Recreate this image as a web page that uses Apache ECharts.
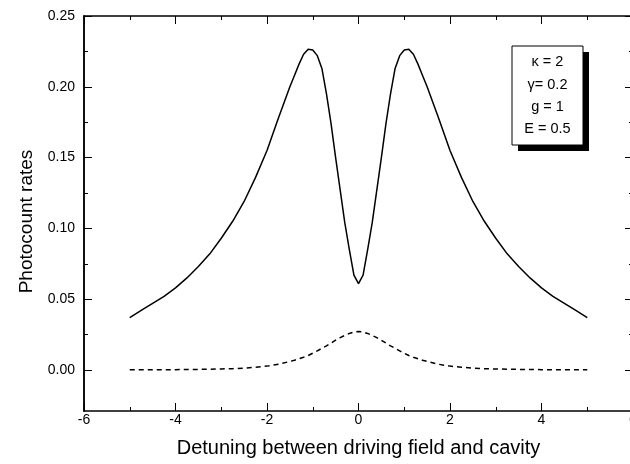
<!DOCTYPE html>
<html>
<head>
<meta charset="utf-8">
<script src="https://cdn.jsdelivr.net/npm/echarts@6/dist/echarts.min.js"></script>
<style>
html,body{margin:0;padding:0;background:#fff;}
#chart{width:630px;height:464px;}
</style>
</head>
<body>
<div id="chart"></div>
<script>
// Detuning values (x) and photocount rates
var detuning = [-5,-4.75,-4.5,-4.25,-4,-3.75,-3.5,-3.25,-3,-2.75,-2.5,-2.25,-2,-1.75,-1.5,-1.4,-1.3,-1.2,-1.1,-1,-0.9,-0.8,-0.7,-0.6,-0.5,-0.4,-0.3,-0.2,-0.1,0,0.1,0.2,0.3,0.4,0.5,0.6,0.7,0.8,0.9,1,1.1,1.2,1.3,1.4,1.5,1.75,2,2.25,2.5,2.75,3,3.25,3.5,3.75,4,4.25,4.5,4.75,5];
var solidRates = [0.037,0.042,0.047,0.052,0.058,0.065,0.073,0.082,0.093,0.105,0.119,0.136,0.155,0.178,0.200,0.208,0.216,0.223,0.2265,0.226,0.222,0.213,0.195,0.174,0.150,0.127,0.104,0.085,0.067,0.061,0.067,0.085,0.104,0.127,0.150,0.174,0.195,0.213,0.222,0.226,0.2265,0.223,0.216,0.208,0.200,0.178,0.155,0.136,0.119,0.105,0.093,0.082,0.073,0.065,0.058,0.052,0.047,0.042,0.037];
var dashedRates = [0.0001,0.0001,0.0001,0.0002,0.0002,0.0003,0.0004,0.0005,0.0007,0.0009,0.0013,0.0019,0.0027,0.0040,0.0060,0.0069,0.0079,0.0090,0.0102,0.0118,0.0135,0.0153,0.0170,0.0190,0.0210,0.0228,0.0244,0.0258,0.0268,0.0272,0.0268,0.0258,0.0244,0.0228,0.0210,0.0190,0.0170,0.0153,0.0135,0.0118,0.0102,0.0090,0.0079,0.0069,0.0060,0.0040,0.0027,0.0019,0.0013,0.0009,0.0007,0.0005,0.0004,0.0003,0.0002,0.0002,0.0001,0.0001,0.0001];
var yMajorTicks = [0,0.05,0.10,0.15,0.20,0.25];
var yMinorTicks = [0.025,0.075,0.125,0.175,0.225];
var insetLines = ['\u03BA = 2','\u03B3= 0.2','g = 1','E = 0.5'];
var xTitle = 'Detuning between driving field and cavity';
var yTitle = 'Photocount rates';

function pair(xs, ys){ return xs.map(function(x,i){ return [x, ys[i]]; }); }

var chart = echarts.init(document.getElementById('chart'), null, {renderer:'canvas'});
var FONT = 'Liberation Sans, Arial, sans-serif';
var yMin = -0.029, yMax = 0.25;
var lineCol = '#000';

function yAx(pos, ticks, len, labels){
  var a = {
    type:'value', position:pos, min:yMin, max:yMax,
    axisLine:{show:true, onZero:false, lineStyle:{color:lineCol,width:1.5}},
    axisTick:{show:true, inside:true, length:len, customValues:ticks, lineStyle:{color:lineCol,width:1}},
    axisLabel:{show:false},
    splitLine:{show:false}
  };
  if(labels){
    a.axisLabel = {show:true, customValues:yMajorTicks, color:'#000', fontFamily:FONT, fontSize:14, margin:9,
      formatter:function(v){ return v.toFixed(2); }};
    a.name = yTitle; a.nameLocation='middle'; a.nameRotate=90; a.nameGap=48;
    a.nameTextStyle = {color:'#000', fontFamily:FONT, fontSize:19, padding:[0,16,0,0]};
  }
  return a;
}

var option = {
  animation:false,
  backgroundColor:'#fff',
  grid:{left:84, top:16, width:549, height:395, containLabel:false, outerBoundsMode:'none'},
  xAxis:[
    {type:'value', position:'bottom', min:-6, max:6, interval:2,
     axisLine:{show:true, onZero:false, lineStyle:{color:lineCol,width:1.5}},
     axisTick:{show:true, inside:true, length:8, lineStyle:{color:lineCol,width:1}},
     minorTick:{show:true, splitNumber:2, length:4, lineStyle:{color:lineCol,width:1}},
     axisLabel:{color:'#000', fontFamily:FONT, fontSize:14, margin:2},
     splitLine:{show:false},
     name:xTitle, nameLocation:'middle', nameGap:27,
     nameTextStyle:{color:'#000', fontFamily:FONT, fontSize:20}},
    {type:'value', position:'top', min:-6, max:6, interval:2,
     axisLine:{show:true, onZero:false, lineStyle:{color:lineCol,width:1.5}},
     axisTick:{show:true, inside:true, length:8, lineStyle:{color:lineCol,width:1}},
     minorTick:{show:true, splitNumber:2, length:4, lineStyle:{color:lineCol,width:1}},
     axisLabel:{show:false}, splitLine:{show:false}}
  ],
  yAxis:[
    yAx('left', yMajorTicks, 8, true),
    yAx('left', yMinorTicks, 4, false),
    yAx('right', yMajorTicks, 8, false),
    yAx('right', yMinorTicks, 4, false)
  ],
  series:[
    {type:'line', data:pair(detuning, solidRates), xAxisIndex:0, yAxisIndex:0, showSymbol:false, symbol:'none',
     lineStyle:{color:'#000', width:1.5}, z:5},
    {type:'line', data:pair(detuning, dashedRates), xAxisIndex:0, yAxisIndex:0, showSymbol:false, symbol:'none',
     lineStyle:{color:'#000', width:1.5, type:[5,4]}, z:5}
  ],
  graphic:[
    {type:'rect', shape:{x:518, y:52, width:71, height:99}, style:{fill:'#000'}, z:10},
    {type:'rect', shape:{x:512, y:46, width:71, height:99}, style:{fill:'#fff', stroke:'#000', lineWidth:1}, z:11},
    {type:'text', x:547.5, y:62, style:{text:insetLines[0], fill:'#000', font:'14.5px '+FONT, textAlign:'center', textVerticalAlign:'middle'}, z:12},
    {type:'text', x:547.5, y:85, style:{text:insetLines[1], fill:'#000', font:'14.5px '+FONT, textAlign:'center', textVerticalAlign:'middle'}, z:12},
    {type:'text', x:547.5, y:107, style:{text:insetLines[2], fill:'#000', font:'14.5px '+FONT, textAlign:'center', textVerticalAlign:'middle'}, z:12},
    {type:'text', x:547.5, y:129, style:{text:insetLines[3], fill:'#000', font:'14.5px '+FONT, textAlign:'center', textVerticalAlign:'middle'}, z:12}
  ]
};
chart.setOption(option);
</script>
</body>
</html>
